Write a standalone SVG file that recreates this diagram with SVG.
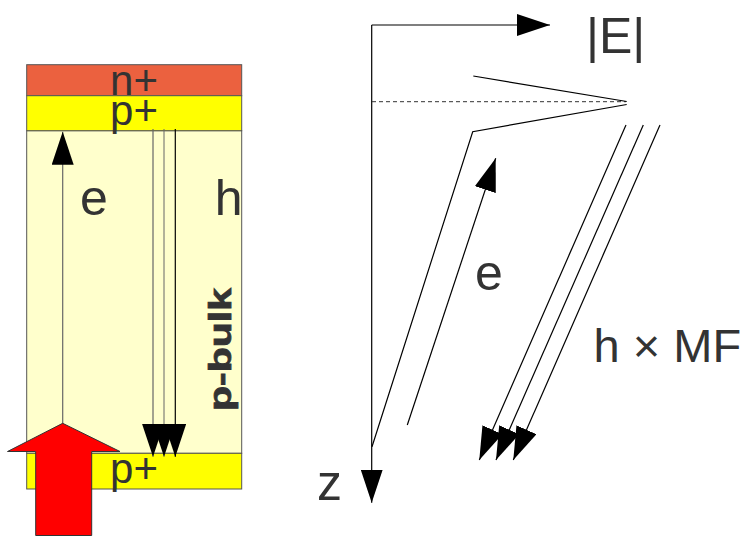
<svg xmlns="http://www.w3.org/2000/svg" width="742" height="536" viewBox="0 0 742 536">
  <style>
    .lbl { font-family: "Liberation Sans", Arial, sans-serif; fill: #333333; }
    .layer { stroke: #555555; stroke-width: 1; }
    .ln { stroke: #000000; stroke-width: 1.2; fill: none; }
    .arr { marker-end: url(#ah); }
  </style>
  <defs>
    <marker id="ah" viewBox="0 0 33 22" refX="33" refY="11" markerWidth="33" markerHeight="22" markerUnits="userSpaceOnUse" orient="auto">
      <path d="M0,0 L33,11 L0,22 Z" fill="#000000"/>
    </marker>
  </defs>
  <rect width="742" height="536" fill="#ffffff"/>

  <g id="bulk">
    <rect class="layer" x="26.7" y="130.7" width="215" height="322.6" fill="#ffffcc"/>
    <text class="lbl" font-size="32" font-weight="bold" stroke="#333333" stroke-width="0.8" textLength="123" lengthAdjust="spacingAndGlyphs" transform="translate(231,411) rotate(-90)">p-bulk</text>
  </g>
  <g id="n-plus">
    <rect class="layer" x="26.7" y="64.7" width="215" height="31" fill="#eb613f"/>
    <text class="lbl" x="134" y="95" font-size="42" text-anchor="middle">n+</text>
  </g>
  <g id="p-plus-top">
    <rect class="layer" x="26.7" y="95.7" width="215" height="35" fill="#ffff00"/>
    <text class="lbl" x="134" y="125" font-size="42" text-anchor="middle">p+</text>
  </g>
  <g id="p-plus-bottom">
    <rect class="layer" x="26.7" y="453.3" width="215" height="35.7" fill="#ffff00"/>
    <text class="lbl" x="134" y="483.4" font-size="42" text-anchor="middle">p+</text>
  </g>

  <g id="connectors">
    <line class="arr" x1="62.7" y1="424" x2="62.7" y2="131.7" stroke="#666666" stroke-width="1.2"/>
    <line class="arr" x1="153" y1="129" x2="153" y2="456.7" stroke="#666666" stroke-width="1.2"/>
    <line class="arr" x1="164" y1="129" x2="164" y2="456.7" stroke="#666666" stroke-width="1"/>
    <line class="arr" x1="175.3" y1="129" x2="175.3" y2="456.7" stroke="#000000" stroke-width="1.2"/>

    <line class="ln arr" x1="371.7" y1="25" x2="550" y2="25"/>
    <line class="ln arr" x1="371.7" y1="25" x2="371.7" y2="502.7"/>
    <line x1="372" y1="101.7" x2="626" y2="101.7" stroke="#333333" stroke-width="1" stroke-dasharray="4,3"/>
    <polyline class="ln" points="473.3,76 626.7,101.5"/>
    <polyline class="ln" points="626.7,104.5 472.7,131.7 372,446.7"/>

    <line class="ln arr" x1="407.3" y1="425" x2="495.7" y2="158.3"/>
    <line class="ln arr" x1="626" y1="125" x2="479.3" y2="460"/>
    <line class="ln arr" x1="643.3" y1="125" x2="496" y2="460"/>
    <line class="ln arr" x1="660" y1="125" x2="513.3" y2="460"/>
  </g>

  <g id="light-arrow">
    <polygon points="62.7,423.3 120,451.5 91.7,451.5 91.7,535.5 35.7,535.5 35.7,451.5 7.5,451.5" fill="#ff0000" stroke="#333333" stroke-width="1"/>
  </g>

  <g id="labels">
    <text class="lbl" x="80" y="215" font-size="50">e</text>
    <text class="lbl" x="214.7" y="215" font-size="50">h</text>
    <text class="lbl" x="475" y="290" font-size="50">e</text>
    <text class="lbl" x="586" y="53" font-size="50">|E|</text>
    <text class="lbl" x="593.6" y="361.7" font-size="47">h × MF</text>
    <text class="lbl" x="317" y="500" font-size="50">z</text>
  </g>
</svg>
